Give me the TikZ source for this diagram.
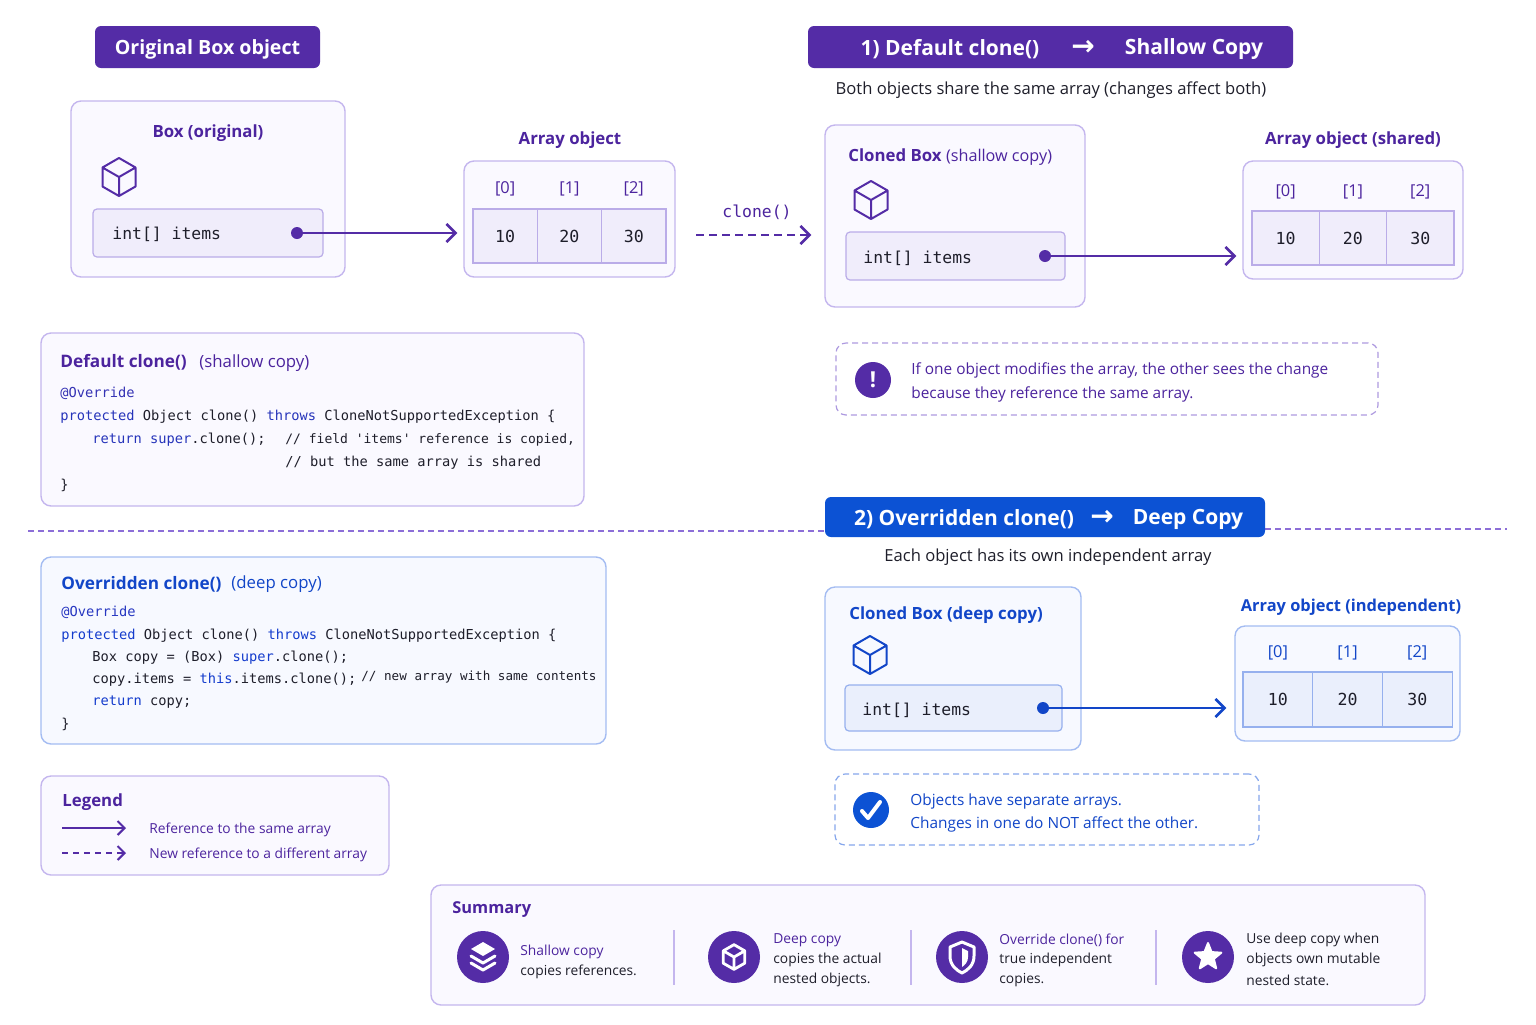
\documentclass[tikz,border=0pt]{standalone}
\usepackage{fontspec}
\setmainfont{Open Sans}
\setmonofont{DejaVu Sans Mono}
\newfontfamily\arrowfont{DejaVu Sans}
\usepackage{xcolor}
\usetikzlibrary{fit,arrows.meta,shapes.geometric}

\definecolor{deeppurple}{RGB}{84,44,166}
\definecolor{purpletext}{RGB}{76,36,158}
\definecolor{deepblue}{RGB}{12,82,212}
\definecolor{bluetext}{RGB}{18,70,200}
\definecolor{cardline}{RGB}{196,182,238}
\definecolor{cardfill}{RGB}{250,249,255}
\definecolor{fieldline}{RGB}{186,172,232}
\definecolor{fieldfill}{RGB}{240,237,251}
\definecolor{bcardline}{RGB}{164,188,242}
\definecolor{bcardfill}{RGB}{247,249,255}
\definecolor{bfieldline}{RGB}{150,176,238}
\definecolor{bfieldfill}{RGB}{234,239,252}
\definecolor{ink}{RGB}{30,30,42}
\definecolor{kwblue}{RGB}{38,52,186}
\definecolor{kwdeep}{RGB}{20,60,205}
\definecolor{sepline}{RGB}{140,110,215}

\newcommand{\kw}[1]{\textcolor{kwblue}{#1}}
\newcommand{\kwd}[1]{\textcolor{kwdeep}{#1}}

\tikzset{
  card/.style={draw=cardline, fill=cardfill, line width=0.7pt, rounded corners=5pt, inner sep=0pt},
  bcard/.style={card, draw=bcardline, fill=bcardfill},
  field/.style={draw=fieldline, fill=fieldfill, line width=0.6pt, rounded corners=2pt, inner sep=0pt},
  bfield/.style={field, draw=bfieldline, fill=bfieldfill},
  note/.style={draw=#1, dash pattern=on 3pt off 2pt, line width=0.6pt, rounded corners=5pt, inner sep=0pt, fill=white},
  banner/.style={fill=#1, rounded corners=3pt, inner sep=0pt},
  bannertext/.style={text=white, font=\fontsize{10.5}{12}\selectfont\bfseries, yshift=-1pt},
  bannerarrow/.style={text=white, font=\fontsize{14}{14}\selectfont\arrowfont\bfseries, yshift=-0.5pt},
  boxtitle/.style={text=#1, font=\fontsize{8.4}{10}\selectfont\bfseries, yshift=-1pt},
  idx/.style={text=#1, font=\fontsize{8.2}{10}\selectfont, yshift=-0.5pt},
  val/.style={text=ink, font=\fontsize{8.3}{10}\selectfont\ttfamily},
  fieldtext/.style={text=ink, font=\fontsize{8.2}{10}\selectfont\ttfamily, anchor=west, inner sep=0pt, yshift=-0.7pt},
  subtitle/.style={text=ink, font=\fontsize{8.3}{10}\selectfont, yshift=-1pt},
  refdot/.style={circle, fill=#1, inner sep=0pt, minimum size=6pt},
  refline/.style={-{Straight Barb[length=4.5pt,width=9pt]}, line width=1.3pt, draw=#1},
  code/.style={font=\fontsize{6.85}{8}\selectfont\ttfamily, text=ink, anchor=west, inner sep=0pt, yshift=-0.7pt},
  notetext/.style={text=#1, font=\fontsize{7.7}{9}\selectfont, anchor=west, inner sep=0pt, yshift=-1pt},
  small/.style={text=#1, font=\fontsize{6.9}{8}\selectfont, anchor=west, inner sep=0pt, yshift=-1pt},
  badge/.style={circle, fill=#1, inner sep=0pt, minimum size=26pt},
  cubeicon/.pic={
    \draw[line join=round] (0,-19) -- (16.5,-9.5) -- (16.5,9.5) -- (0,19) -- (-16.5,9.5) -- (-16.5,-9.5) -- cycle
      (-16.5,-9.5) -- (0,0) -- (16.5,-9.5) (0,0) -- (0,19);
  }
}

\begin{document}
\begin{tikzpicture}[x=0.5pt, y=-0.5pt]
  \useasboundingbox[fill=white] (0,0) rectangle (1536,1024);

  % original box and its array
  \node[banner=deeppurple, fit={(95,26) (320,68)}] (origbanner) {};
  \node[bannertext, font=\fontsize{9.8}{12}\selectfont\bfseries] (origbannertext) at (origbanner.center) {Original Box object};

  \node[card, fit={(71,101) (345,277)}] (origbox) {};
  \node[boxtitle=purpletext] (origtitle) at (208,131) {Box (original)};
  \pic[deeppurple, line width=1pt] at (119,177) {cubeicon};
  \node[field, fit={(93,209) (323,257)}] (origfield) {};
  \node[fieldtext] (origfieldtext) at (112,233) {int[] items};
  \node[refdot=deeppurple] (origdot) at (297,233) {};

  \node[boxtitle=purpletext] (origarrtitle) at (570,138) {Array object};
  \node[card, fit={(464,161) (675,277)}] (origarr) {};
  \foreach \i/\v in {0/10,1/20,2/30} {
    \node[field, rounded corners=0pt, fit={({473+\i*64.3},209) ({537.3+\i*64.3},263)}] (oa\i) {};
    \node[idx=purpletext] (oi\i) at (oa\i.center |- 0,188) {[\i]};
    \node[val] (ov\i) at (oa\i.center) {\v};
  }
  \draw[refline=deeppurple] (origdot.center) -- ([xshift=-3pt]origarr.west |- origdot.center);

  % clone() step
  \node[text=purpletext, font=\fontsize{8.2}{10}\selectfont\ttfamily, yshift=-0.7pt] (clonelabel) at (757,211) {clone()};
  \coordinate (clonefrom) at (696,235);

  % 1) shallow copy
  \node[banner=deeppurple, fit={(808,26) (1293,68)}] (shallowbanner) {};
  \node[bannertext] (sb1) at (950,47) {1) Default clone()};
  \node[bannerarrow] (sb2) at (1083,47) {→};
  \node[bannertext] (sb3) at (1194,47) {Shallow Copy};
  \node[subtitle] (shallowsub) at (1051,88) {Both objects share the same array (changes affect both)};

  \node[card, fit={(825,125) (1085,307)}] (shallowbox) {};
  \node[boxtitle=purpletext, anchor=west, inner sep=0pt] (shallowtitle) at (848,155) {Cloned Box \fontsize{8.1}{10}\selectfont\mdseries(shallow copy)};
  \pic[deeppurple, line width=1pt] at (871,200) {cubeicon};
  \node[field, fit={(846,232) (1065,280)}] (shallowfield) {};
  \node[fieldtext] (shallowfieldtext) at (863,257) {int[] items};
  \node[refdot=deeppurple] (shallowdot) at (1045,256) {};
  \draw[refline=deeppurple, dash pattern=on 4pt off 2.5pt] (clonefrom) -- ([xshift=-6.5pt]shallowbox.west |- clonefrom);

  \node[boxtitle=purpletext] (sharedtitle) at (1353,138) {Array object (shared)};
  \node[card, fit={(1243,161) (1463,279)}] (sharedarr) {};
  \foreach \i/\v in {0/10,1/20,2/30} {
    \node[field, rounded corners=0pt, fit={({1252+\i*67.3},211) ({1319.3+\i*67.3},265)}] (sa\i) {};
    \node[idx=purpletext] (si\i) at (sa\i.center |- 0,191) {[\i]};
    \node[val] (sv\i) at (sa\i.center) {\v};
  }
  \draw[refline=deeppurple] (shallowdot.center) -- ([xshift=-3pt]sharedarr.west |- shallowdot.center);

  \node[note=cardline!80!deeppurple, fit={(836,343) (1378,415)}] (warnnote) {};
  \node[badge=deeppurple, minimum size=18pt] (warnicon) at (873,380) {};
  \node[text=white, font=\fontsize{11}{12}\selectfont\bfseries] (warnmark) at (warnicon.center) {!};
  \node[notetext=purpletext] (warn1) at (911,368) {If one object modifies the array, the other sees the change};
  \node[notetext=purpletext] (warn2) at (911,392) {because they reference the same array.};

  % default clone() code
  \node[card, fit={(41,333) (584,506)}] (shallowcode) {};
  \node[notetext=purpletext, font=\fontsize{8.6}{10}\selectfont\bfseries] (sct) at (60,360) {Default clone()};
  \node[notetext=purpletext, font=\fontsize{8.4}{10}\selectfont] (sct2) at (199,361) {(shallow copy)};
  \node[code, text=kwblue!70!deeppurple] (sc1) at (60,392) {@Override};
  \node[code] (sc2) at (60,415) {\kw{protected} Object clone() \kw{throws} CloneNotSupportedException \{};
  \node[code] (sc3) at (92,438) {\kw{return} \kw{super}.clone();};
  \node[code, font=\fontsize{6.5}{8}\selectfont\ttfamily] (sc3c) at (285,438) {// field 'items' reference is copied,};
  \node[code] (sc4c) at (285,461) {// but the same array is shared};
  \node[code] (sc5) at (60,484) {\}};

  % separator
  \draw[sepline, line width=0.6pt, dash pattern=on 3pt off 2pt] (28,531) -- (825,531) (1265,529) -- (1507,529);

  % 2) deep copy
  \node[banner=deepblue, fit={(825,497) (1265,537)}] (deepbanner) {};
  \node[bannertext] (db1) at (964,517) {2) Overridden clone()};
  \node[bannerarrow] (db2) at (1102,517) {→};
  \node[bannertext] (db3) at (1188,517) {Deep Copy};
  \node[subtitle] (deepsub) at (1048,555) {Each object has its own independent array};

  \node[bcard, fit={(825,587) (1081,750)}] (deepbox) {};
  \node[boxtitle=bluetext, anchor=west, inner sep=0pt] (deeptitle) at (849,613) {Cloned Box (deep copy)};
  \pic[bluetext, line width=1pt] at (870,655) {cubeicon};
  \node[bfield, fit={(845,685) (1062,731)}] (deepfield) {};
  \node[fieldtext] (deepfieldtext) at (862,709) {int[] items};
  \node[refdot=bluetext] (deepdot) at (1043,708) {};

  \node[boxtitle=bluetext, font=\fontsize{8.2}{10}\selectfont\bfseries] (indeptitle) at (1351,605) {Array object (independent)};
  \node[bcard, fit={(1235,626) (1460,741)}] (indeparr) {};
  \foreach \i/\v in {0/10,1/20,2/30} {
    \node[bfield, rounded corners=0pt, fit={({1243+\i*69.7},672) ({1312.7+\i*69.7},727)}] (da\i) {};
    \node[idx=bluetext] (di\i) at (da\i.center |- 0,652) {[\i]};
    \node[val] (dv\i) at (da\i.center) {\v};
  }
  \draw[refline=bluetext] (deepdot.center) -- ([xshift=-4pt]indeparr.west |- deepdot.center);

  \node[note=bcardline!80!deepblue, fit={(835,774) (1259,845)}] (oknote) {};
  \node[badge=deepblue, minimum size=18pt] (okicon) at (871,810) {};
  \draw[white, line width=2pt, line cap=round, line join=round] (862,811) -- (868,818) -- (880,802);
  \node[notetext=bluetext] (ok1) at (910,799) {Objects have separate arrays.};
  \node[notetext=bluetext] (ok2) at (910,822) {Changes in one do NOT affect the other.};

  % overridden clone() code
  \node[bcard, fit={(41,557) (606,744)}] (deepcode) {};
  \node[notetext=bluetext, font=\fontsize{8.6}{10}\selectfont\bfseries] (dct) at (61,582) {Overridden clone()};
  \node[notetext=bluetext, font=\fontsize{8.4}{10}\selectfont] (dct2) at (231,582) {(deep copy)};
  \node[code, text=kwdeep!70!deeppurple] (dc1) at (61,611) {@Override};
  \node[code] (dc2) at (61,634) {\kwd{protected} Object clone() \kwd{throws} CloneNotSupportedException \{};
  \node[code] (dc3) at (92,656) {Box copy = (Box) \kwd{super}.clone();};
  \node[code] (dc4) at (92,678) {copy.items = \kwd{this}.items.clone();};
  \node[code, font=\fontsize{6.3}{8}\selectfont\ttfamily] (dc4c) at (361,676) {// new array with same contents};
  \node[code] (dc5) at (92,701) {\kwd{return} copy;};
  \node[code] (dc6) at (61,723) {\}};

  % legend
  \node[card, fit={(41,776) (389,875)}] (legend) {};
  \node[notetext=purpletext, font=\fontsize{8.4}{10}\selectfont\bfseries] (legendtitle) at (62,800) {Legend};
  \coordinate (lega) at (62,828);
  \coordinate (legb) at (126,828);
  \coordinate (legc) at (62,853);
  \coordinate (legd) at (126,853);
  \draw[refline=deeppurple, line width=1pt, -{Straight Barb[length=3.5pt,width=7pt]}] (lega) -- (legb);
  \draw[refline=deeppurple, line width=1pt, dash pattern=on 3pt off 2.5pt, -{Straight Barb[length=3.5pt,width=7pt]}] (legc) -- (legd);
  \node[small=purpletext] (leg1) at (149,828) {Reference to the same array};
  \node[small=purpletext] (leg2) at (149,853) {New reference to a different array};

  % summary
  \node[card, fit={(431,885) (1425,1005)}] (summary) {};
  \node[notetext=purpletext, font=\fontsize{8.2}{10}\selectfont\bfseries] (sumtitle) at (452,908) {Summary};
  \draw[cardline, line width=0.6pt] (674,930) -- (674,985) (911,930) -- (911,985) (1156,930) -- (1156,985);

  \node[badge=deeppurple] (sumicon1) at (483,957) {};
  \fill[white] (483,942) -- (495,949) -- (483,956) -- (471,949) -- cycle;
  \draw[white, line width=1.5pt, line join=round, line cap=round] (471,956) -- (483,963) -- (495,956) (471,963) -- (483,970) -- (495,963);
  \node[small=purpletext] (sum1a) at (520,950) {Shallow copy};
  \node[small=ink] (sum1b) at (520,970) {copies references.};

  \node[badge=deeppurple] (sumicon2) at (734,957) {};
  \pic[white, scale=0.65, line width=1.4pt] at (734,957) {cubeicon};
  \node[small=purpletext] (sum2a) at (773,938) {Deep copy};
  \node[small=ink] (sum2b) at (773,958) {copies the actual};
  \node[small=ink] (sum2c) at (773,978) {nested objects.};

  \node[badge=deeppurple] (sumicon3) at (962,957) {};
  \draw[white, line width=1.5pt, line join=round] (962,942) -- (974,947) -- (974,956) .. controls (974,965) and (968,970) .. (962,973) .. controls (956,970) and (950,965) .. (950,956) -- (950,947) -- cycle;
  \fill[white] (962,948) -- (968,951) -- (968,957) .. controls (968,962) and (965,965) .. (962,967) -- cycle;
  \node[small=purpletext] (sum3a) at (999,938) {Override clone() for};
  \node[small=ink] (sum3b) at (999,958) {true independent};
  \node[small=ink] (sum3c) at (999,978) {copies.};

  \node[badge=deeppurple] (sumicon4) at (1208,957) {};
  \node[star, star points=5, star point ratio=2.3, fill=white, draw=white, line width=1pt, line join=round, inner sep=0pt, minimum size=14pt] (staricon) at (1208,957) {};
  \node[small=ink] (sum4a) at (1246,938) {Use deep copy when};
  \node[small=ink] (sum4b) at (1246,958) {objects own mutable};
  \node[small=ink] (sum4c) at (1246,978) {nested state.};
\end{tikzpicture}
\end{document}
